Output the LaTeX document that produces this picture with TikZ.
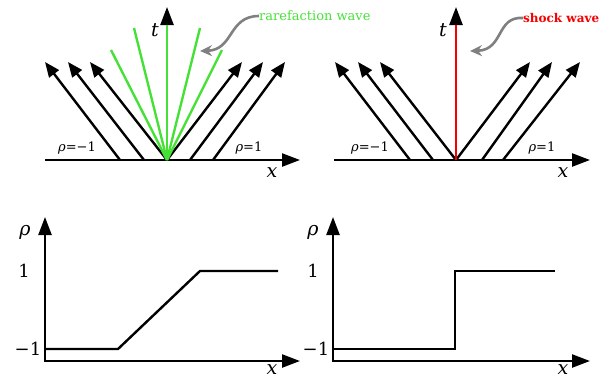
\documentclass[tikz,border=0pt]{standalone}
\usepackage{fontspec}
\setmainfont{DejaVu Serif}
\usetikzlibrary{arrows.meta}
\definecolor{rgreen}{RGB}{70,225,55}
\definecolor{sred}{RGB}{245,0,0}
\definecolor{pgray}{RGB}{128,128,128}
\newcommand{\mysym}[1]{\textit{#1}}
\begin{document}
\begin{tikzpicture}[x=1pt,y=-1pt,
  axisarrow/.style={line width=2.4pt,-{Triangle[length=18pt,width=13pt]}},
  axistwo/.style={line width=2.4pt,{Triangle[length=18pt,width=13pt]}-{Triangle[length=18pt,width=13pt]}},
  charline/.style={line width=2.4pt,-{Triangle[length=15pt,width=12pt]}},
  fanline/.style={line width=2.4pt,rgreen},
  shockline/.style={line width=2.4pt,sred},
  profile/.style={line width=2.4pt},
  pointer/.style={line width=2.6pt,pgray,-{Stealth[length=12pt,width=11pt]}},
  smalllab/.style={font=\fontsize{13}{13}\selectfont,inner sep=0pt},
  axislab/.style={font=\fontsize{19}{19}\selectfont\itshape,inner sep=0pt},
  numlab/.style={font=\fontsize{18}{18}\selectfont,inner sep=0pt},
  wavelab/.style={font=\fontsize{13}{13}\selectfont,inner sep=0pt,anchor=west}]
\useasboundingbox (0,0) rectangle (600,381);
% ---------- top left: rarefaction ----------
\coordinate (O1) at (167,160);
\coordinate (X1a) at (45,160);
\coordinate (X1b) at (300,160);
\coordinate (T1) at (167,7);
\draw[axisarrow] (X1a) -- (X1b);
\draw[axisarrow] (O1) -- (T1);
\foreach \s/\e in {120/45,144/68,167/90}
  \draw[charline] (\s,160) -- (\e,62);
\foreach \s/\e in {167/242,190/263,213/285}
  \draw[charline] (\s,160) -- (\e,62);
\foreach \e/\h in {111/50,134/28,167/25,200/28,222/50}
  \draw[fanline] (O1) -- (\e,\h);
\node[smalllab] (r1l) at (77,148) {\mysym{ρ}=−1};
\node[smalllab] (r1r) at (249,148) {\mysym{ρ}=1};
\node[axislab] (x1) at (272,173) {x};
\node[axislab] (t1) at (155,30) {t};
\node[wavelab,text=rgreen] (rw) at (259,16) {rarefaction wave};
\coordinate (p1) at (200,51);
\draw[pointer] (rw.west) .. controls (228,16) and (234,50) .. (p1);
% ---------- top right: shock ----------
\coordinate (O2) at (456,160);
\coordinate (X2a) at (334,160);
\coordinate (X2b) at (590,160);
\coordinate (T2) at (456,7);
\draw[axisarrow] (X2a) -- (X2b);
\draw[axisarrow] (O2) -- (T2);
\foreach \s/\e in {410/335,433/358,456/380}
  \draw[charline] (\s,160) -- (\e,62);
\foreach \s/\e in {456/530,482/552,503/580}
  \draw[charline] (\s,160) -- (\e,62);
\draw[shockline] (O2) -- (456,25);
\node[smalllab] (r2l) at (370,148) {\mysym{ρ}=−1};
\node[smalllab] (r2r) at (542,148) {\mysym{ρ}=1};
\node[axislab] (x2) at (563,173) {x};
\node[axislab] (t2) at (443,30) {t};
\node[wavelab,text=sred,font=\fontsize{12}{12}\selectfont\bfseries] (sw) at (523,18) {shock wave};
\coordinate (p2) at (470,51);
\draw[pointer] (sw.west) .. controls (496,16) and (504,50) .. (p2);
% ---------- bottom left ----------
\coordinate (C3) at (45,361);
\draw[axistwo] (45,217) -- (C3) -- (300,361);
\draw[profile] (45,349) -- (118,349) -- (200,271) -- (278,271);
\node[axislab] (rho3) at (25,232) {ρ};
\node[numlab] (one3) at (24,271) {1};
\node[numlab] (mone3) at (28,349) {−1};
\node[axislab] (x3) at (272,370) {x};
% ---------- bottom right ----------
\coordinate (C4) at (333,361);
\draw[axistwo] (333,217) -- (C4) -- (590,361);
\draw[profile] (333,349) -- (455,349) -- (455,271) -- (555,271);
\node[axislab] (rho4) at (313,232) {ρ};
\node[numlab] (one4) at (313,271) {1};
\node[numlab] (mone4) at (316,349) {−1};
\node[axislab] (x4) at (563,370) {x};
\end{tikzpicture}
\end{document}
